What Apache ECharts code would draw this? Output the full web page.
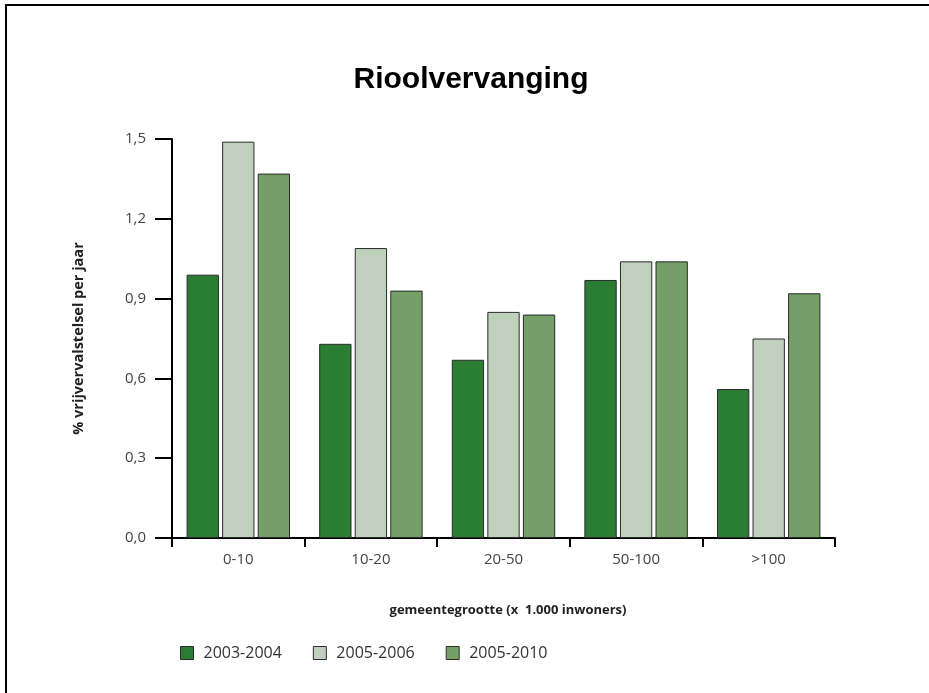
<!DOCTYPE html>
<html>
<head>
<meta charset="utf-8">
<script src="https://cdn.jsdelivr.net/npm/echarts@6/dist/echarts.min.js"></script>
<style>
  html, body { margin: 0; padding: 0; background: #fff; }
  #chart { width: 929px; height: 693px; }
</style>
</head>
<body>
<div id="chart"></div>
<script>
// Municipality size classes (x 1,000 inhabitants)
const categories = ['0-10', '10-20', '20-50', '50-100', '>100'];
const seriesNames = ['2003-2004', '2005-2006', '2005-2010'];
// Sewer replacement, % of free-fall sewer per year
const values2003_2004 = [0.99, 0.73, 0.67, 0.97, 0.56];
const values2005_2006 = [1.49, 1.09, 0.85, 1.04, 0.75];
const values2005_2010 = [1.37, 0.93, 0.84, 1.04, 0.92];
const colors = ['#2a7d32', '#bfd0bc', '#759f69'];

const chart = echarts.init(document.getElementById('chart'));
const fontFam = '"Open Sans", "Noto Sans", sans-serif';

function bar(name, data, color) {
  return {
    name: name,
    type: 'bar',
    data: data,
    barGap: '10%',
    barCategoryGap: '22%',
    itemStyle: { color: color, borderColor: '#2b2b2b', borderWidth: 1 },
    emphasis: { disabled: true }
  };
}

chart.setOption({
  animation: false,
  backgroundColor: '#fff',
  title: {
    text: 'Rioolvervanging',
    left: 466,
    textAlign: 'center',
    top: 60,
    textStyle: { fontFamily: '"Liberation Sans", Arial, sans-serif', fontSize: 30, fontWeight: 'bold', color: '#000' }
  },
  legend: {
    data: seriesNames,
    left: 180,
    top: 645,
    padding: 0,
    icon: 'rect',
    itemWidth: 13,
    itemHeight: 13,
    itemGap: 31,
    itemStyle: { borderColor: '#2b2b2b', borderWidth: 1 },
    textStyle: { fontFamily: fontFam, fontSize: 16, color: '#333', padding: [0, 0, 0, 5] }
  },
  grid: { left: 172, right: 94, top: 139, bottom: 155, containLabel: false },
  xAxis: {
    type: 'category',
    data: categories,
    name: 'gemeentegrootte (x  1.000 inwoners)',
    nameLocation: 'middle',
    nameGap: 66,
    nameTextStyle: { fontFamily: fontFam, fontSize: 13, fontWeight: 'bold', color: '#222', padding: [0, 0, 0, 9] },
    axisLine: { lineStyle: { color: '#000', width: 2 } },
    axisTick: { show: true, length: 9, lineStyle: { color: '#000', width: 2 } },
    axisLabel: { fontFamily: fontFam, fontSize: 15, color: '#444', margin: 14 }
  },
  yAxis: {
    type: 'value',
    min: 0,
    max: 1.5,
    interval: 0.3,
    name: '% vrijvervalstelsel per jaar',
    nameLocation: 'middle',
    nameRotate: 90,
    nameGap: 86,
    nameTextStyle: { fontFamily: fontFam, fontSize: 14.5, fontWeight: 'bold', color: '#222' },
    axisLine: { show: true, lineStyle: { color: '#000', width: 2 } },
    axisTick: { show: true, length: 17, lineStyle: { color: '#000', width: 2 } },
    splitLine: { show: false },
    axisLabel: {
      fontFamily: fontFam, fontSize: 15, color: '#444', margin: 26,
      formatter: v => v.toFixed(1).replace('.', ',')
    }
  },
  series: [
    bar(seriesNames[0], values2003_2004, colors[0]),
    bar(seriesNames[1], values2005_2006, colors[1]),
    bar(seriesNames[2], values2005_2010, colors[2])
  ],
  graphic: [
    {
      type: 'polyline',
      shape: { points: [[6, 693], [6, 5], [929, 5]] },
      style: { stroke: '#000', lineWidth: 2, fill: null },
      silent: true
    }
  ]
});
</script>
</body>
</html>
